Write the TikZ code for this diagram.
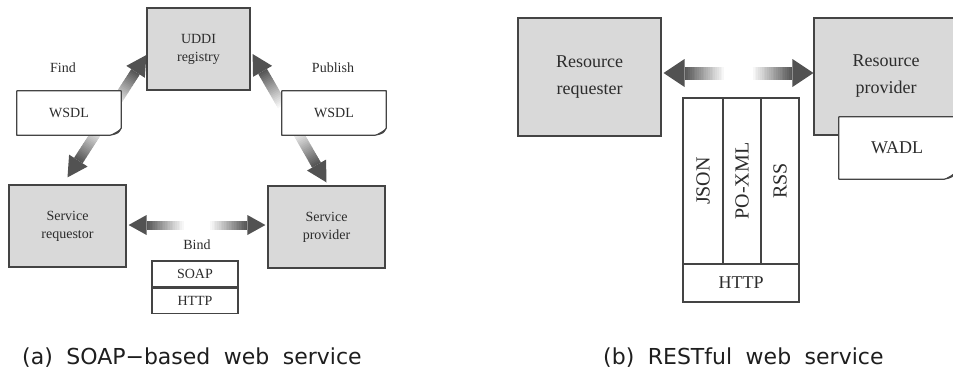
\documentclass[tikz,border=0pt]{standalone}
\usepackage{fontspec}
\setmainfont{Liberation Serif}
\newfontfamily\capfont{DejaVu Sans}
\usetikzlibrary{calc}
\definecolor{linec}{HTML}{444444}
\definecolor{boxfill}{HTML}{D9D9D9}
\definecolor{textc}{HTML}{2C2C2C}
\definecolor{captc}{HTML}{1E1E1E}
\pgfdeclarelayer{back}
\pgfsetlayers{back,main}

% Thick double-headed arrow whose shaft fades from dark at both heads
% to white in the middle: #1,#2 tips, #3 shaft width, #4 half head width, #5 head length
\newcommand\fadearrow[5]{%
  \path ($(#1)!#5!(#2)$) coordinate (fa) ($(#2)!#5!(#1)$) coordinate (fb);
  \foreach \k in {0,...,59}{%
    \pgfmathsetmacro\ta{\k/60}%
    \pgfmathsetmacro\tb{min(1,(\k+1.5)/60)}%
    \pgfmathsetmacro\pc{int(round(68*max(0,(abs(2*(\k+0.5)/60-1)-0.25)/0.75)))}%
    \draw[line width=#3, draw=black!\pc] ($(fa)!\ta!(fb)$) -- ($(fa)!\tb!(fb)$);
  }%
  \fill[black!68] (#1) -- ($(fa)!#4!90:(#1)$) -- ($(fa)!#4!-90:(#1)$) -- cycle;
  \fill[black!68] (#2) -- ($(fb)!#4!90:(#2)$) -- ($(fb)!#4!-90:(#2)$) -- cycle;
}

% Outline of a document box with a curled lower right corner
\newcommand\docoutline[1]{%
  \draw[linec, line width=1.2pt, line join=round]
    (#1.north west) -- (#1.north east) -- ([yshift=7pt]#1.south east)
    .. controls ([xshift=-3pt,yshift=2pt]#1.south east) .. ([xshift=-11pt]#1.south east)
    -- (#1.south west) -- cycle;
  \fill[linec] ([yshift=7pt]#1.south east)
    .. controls ([xshift=-3pt,yshift=2pt]#1.south east) .. ([xshift=-11pt]#1.south east)
    -- ([xshift=-4pt,yshift=4pt]#1.south east) -- cycle;
}

\tikzset{
  graybox/.style={draw=linec, fill=boxfill, line width=1.2pt, align=center,
    inner sep=0pt, text=textc},
  whitebox/.style={draw=linec, fill=white, line width=1.2pt, align=center,
    inner sep=0pt, text=textc},
  docbox/.style={fill=white, align=center, inner sep=0pt, text=textc},
  smalltxt/.style={font=\fontsize{14}{18}\selectfont},
  bigtxt/.style={font=\fontsize{18}{27}\selectfont},
  sidetxt/.style={font=\fontsize{20}{24}\selectfont},
  label/.style={text=textc, inner sep=0pt, font=\fontsize{14}{18}\selectfont},
  captxt/.style={anchor=base west, inner sep=0pt, text=captc,
    font=\capfont\fontsize{22}{26}\selectfont},
}

\begin{document}
\begin{tikzpicture}[x=1pt,y=-1pt]
\useasboundingbox (0,0) rectangle (953,370);

% ---------- (a) SOAP-based web service ----------
\node[graybox, smalltxt, minimum width=103pt, minimum height=82pt] (uddi) at (198.5,49) {UDDI\\registry};
\node[graybox, smalltxt, minimum width=117pt, minimum height=82pt] (req) at (67.5,226) {Service\\requestor};
\node[graybox, smalltxt, minimum width=117pt, minimum height=82pt] (prov) at (326.5,227) {Service\\provider};

\node[docbox, smalltxt, minimum width=104pt, minimum height=44pt] (wl) at (69,113) {WSDL};
\docoutline{wl}
\node[docbox, smalltxt, minimum width=104pt, minimum height=44pt] (wr) at (334,113) {WSDL};
\docoutline{wr}

\node[label] (find) at (63,68) {Find};
\node[label] (publish) at (333,68) {Publish};
\node[label] (bind) at (197,245) {Bind};

\node[whitebox, smalltxt, minimum width=86pt, minimum height=26pt] (soap) at (195,274) {SOAP};
\node[whitebox, smalltxt, minimum width=86pt, minimum height=25pt, anchor=north] (http1) at (soap.south) {HTTP};

\coordinate (f1) at ([yshift=-6pt]uddi.west);
\coordinate (f2) at ([yshift=7pt]req.north);
\coordinate (p1) at ([xshift=2pt,yshift=-5pt]uddi.east);
\coordinate (p2) at ([yshift=3pt]prov.north);
\coordinate (b1) at ([xshift=2pt,yshift=1pt]req.east);
\coordinate (b2) at ([xshift=-2pt]prov.west |- b1);

\begin{pgfonlayer}{back}
  \fadearrow{f1}{f2}{10pt}{11pt}{20pt}
  \fadearrow{p1}{p2}{10pt}{11pt}{20pt}
  \fadearrow{b1}{b2}{9pt}{10pt}{18pt}
\end{pgfonlayer}

\node[captxt] (capa) at (22,364) {\spaceskip=13.5pt\relax (a) SOAP−based web service};

% ---------- (b) RESTful web service ----------
\node[graybox, bigtxt, minimum width=143pt, minimum height=118pt] (rreq) at (589.5,77) {Resource\\requester};
\node[graybox, bigtxt, minimum width=144pt, minimum height=117pt] (rprov) at (886,76.5) {Resource\\provider};
\node[docbox, bigtxt, minimum width=116pt, minimum height=62pt] (wadl) at (897,148) {WADL};
\docoutline{wadl}

\node[whitebox, sidetxt, rotate=90, minimum width=166pt, minimum height=40pt] (json) at (703,181) {JSON};
\node[whitebox, sidetxt, rotate=90, minimum width=166pt, minimum height=38pt] (poxml) at (742,181) {PO-XML};
\node[whitebox, sidetxt, rotate=90, minimum width=166pt, minimum height=38pt] (rss) at (780,181) {RSS};
\node[whitebox, bigtxt, minimum width=116pt, minimum height=38pt] (http2) at (741,283) {HTTP};

\coordinate (r1) at ([xshift=2pt,yshift=4pt]rreq.east);
\coordinate (r2) at (rprov.west |- r1);
\begin{pgfonlayer}{back}
  \fadearrow{r1}{r2}{13pt}{14pt}{21pt}
\end{pgfonlayer}

\node[captxt] (capb) at (603,364) {\spaceskip=13.5pt\relax (b) RESTful web service};
\end{tikzpicture}
\end{document}
